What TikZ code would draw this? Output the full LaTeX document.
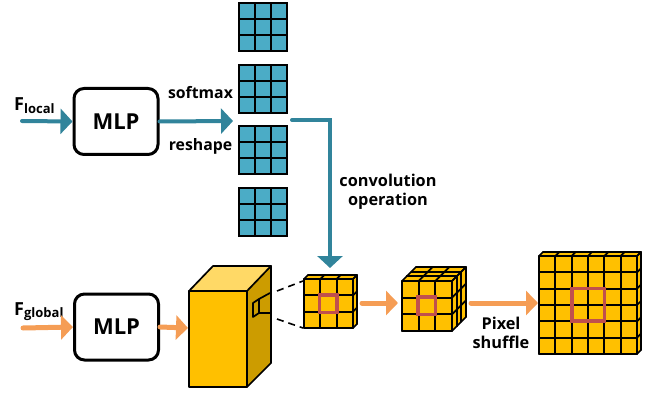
\documentclass[tikz,border=0pt]{standalone}
\usepackage{fontspec}
\setmainfont{Open Sans}
\usetikzlibrary{arrows.meta}
\definecolor{teal}{HTML}{31849B}
\definecolor{gridblue}{HTML}{4BACC6}
\definecolor{orng}{HTML}{F59D55}
\definecolor{gold}{HTML}{FFC000}
\definecolor{goldlight}{HTML}{FFD966}
\definecolor{golddark}{HTML}{CC9C00}
\definecolor{redsq}{HTML}{C0504D}
\newcommand{\featcube}[6]{%
  \pgfmathsetmacro\cubecell{#3/#4}%
  \pgfmathsetmacro\cubedep{#5/#6}%
  \fill[gold] (#1,#2) -- ++(#5,-#5) -- ++(#3,0) -- ++(0,#3) -- ++(-#5,#5) -- ++(-#3,0) -- cycle;
  \foreach \i in {0,...,#4} {
    \draw[cubeline] ({#1+\i*\cubecell},#2) -- ++(0,#3);
    \draw[cubeline] (#1,{#2+\i*\cubecell}) -- ++(#3,0);
    \draw[cubeline] ({#1+\i*\cubecell},#2) -- ++(#5,-#5);
    \draw[cubeline] (#1+#3,{#2+\i*\cubecell}) -- ++(#5,-#5);
  }
  \foreach \j in {1,...,#6} {
    \draw[cubeline] ({#1+\j*\cubedep},{#2-\j*\cubedep}) -- ++(#3,0) -- ++(0,#3);
  }
}
\newcommand{\bluegrid}[2]{%
  \fill[gridblue] (#1,#2) rectangle ++(48,48);
  \foreach \i in {0,...,3} {
    \draw[gridline] ({#1+\i*16},#2) -- ++(0,48);
    \draw[gridline] (#1,{#2+\i*16}) -- ++(48,0);
  }
}
\tikzset{
  cubeline/.style={black, line width=1.7pt, line cap=round, line join=round},
  gridline/.style={black, line width=1.9pt, line cap=rect},
  mlpbox/.style={draw=black, fill=white, line width=3pt, rounded corners=10pt,
    minimum width=84pt, minimum height=66pt, font=\fontsize{22}{22}\selectfont\bfseries},
  lbl/.style={font=\fontsize{15.8}{19}\selectfont\bfseries, inner sep=0pt, align=center},
  lblb/.style={font=\fontsize{16.3}{19}\selectfont\bfseries, inner sep=0pt, align=center},
  tealarrow/.style={teal, line width=4pt, line cap=round,
    -{Triangle[length=12pt,width=25pt]}},
  orarrow/.style={orng, line width=5pt, line cap=round,
    -{Triangle[length=12pt,width=24pt]}},
  redbox/.style={draw=redsq, line width=3.6pt},
  dashl/.style={black, line width=1.6pt, dash pattern=on 7pt off 5pt},
}
\begin{document}
\begin{tikzpicture}[x=1pt,y=-1pt]
\useasboundingbox (0,0) rectangle (652,395);
% ---------- top branch ----------
\node[mlpbox] (mlp1) at (116,121.5) {MLP};
\node[anchor=base west, inner sep=0pt, font=\fontsize{18}{18}\selectfont\bfseries] (flocal) at (14,111)
  {F\raisebox{-2.5pt}{\fontsize{13}{13}\selectfont local}};
\coordinate (fl0) at (22,121);
\draw[tealarrow] (fl0) -- (mlp1.west);
\coordinate (gin) at (233,121);
\draw[tealarrow] (mlp1.east) -- (gin);
\node[lbl] (softmax) at (200.5,93) {softmax};
\node[lbl] (reshape) at (200.5,146) {reshape};
\bluegrid{239}{3}
\bluegrid{239}{65}
\bluegrid{239}{126}
\bluegrid{239}{188}
\coordinate (cs) at (292,120);
\coordinate (ce) at (330,268);
\draw[teal, line width=4pt, line cap=round, -{Triangle[length=12pt,width=25pt]}] (cs) -| (ce);
\node[lblb] (conv) at (388,192) {convolution\\operation};
% ---------- bottom branch ----------
\node[mlpbox] (mlp2) at (116.5,327) {MLP};
\node[anchor=base west, inner sep=0pt, font=\fontsize{18}{18}\selectfont\bfseries] (fglobal) at (14,315)
  {F\raisebox{-2.5pt}{\fontsize{13}{13}\selectfont global}};
\coordinate (fg0) at (23,328);
\draw[orarrow] (fg0) -- (mlp2.west);
% big cuboid
\fill[gold] (189,291) rectangle (247,387);
\fill[goldlight] (189,291) -- (213,266) -- (271,266) -- (247,291) -- cycle;
\fill[golddark] (247,291) -- (271,266) -- (271,363) -- (247,387) -- cycle;
\draw[cubeline] (189,291) rectangle (247,387);
\draw[cubeline] (189,291) -- (213,266) -- (271,266) -- (247,291);
\draw[cubeline] (271,266) -- (271,363) -- (247,387);
\coordinate (boxin) at (188,328);
\draw[orarrow] (mlp2.east) -- (boxin);
% window on side
\draw[cubeline] (253,303) -- (259,299) -- (259,313) -- (253,317) -- cycle;
\draw[cubeline] (259,299) -- (270,293);
\draw[cubeline] (259,313) -- (270,313);
% dashed projection lines
\coordinate (w1) at (277,291);
\coordinate (w2) at (277,319);
\coordinate (c1a) at (303,281);
\coordinate (c1b) at (303,328);
\draw[dashl] (w1) -- (c1a);
\draw[dashl] (w2) -- (c1b);
% small cube 1
\featcube{304}{279}{49}{3}{4}{1}
\draw[redbox] (319.5,295) rectangle (337,312.5);
\coordinate (a1s) at (362,303);
\coordinate (a1e) at (398,303);
\draw[orarrow] (a1s) -- (a1e);
% cube 2
\featcube{402}{281}{50}{3}{14}{3}
\draw[redbox] (418,297) rectangle (435.5,314.5);
\coordinate (a2s) at (471,303);
\coordinate (a2e) at (538,303);
\draw[orarrow] (a2s) -- (a2e);
\node[lblb] (pix) at (501,333) {Pixel\\shuffle};
% big grid
\featcube{539}{256}{98}{6}{4}{1}
\draw[redbox] (572,288.5) rectangle (604.5,321);
\end{tikzpicture}
\end{document}
